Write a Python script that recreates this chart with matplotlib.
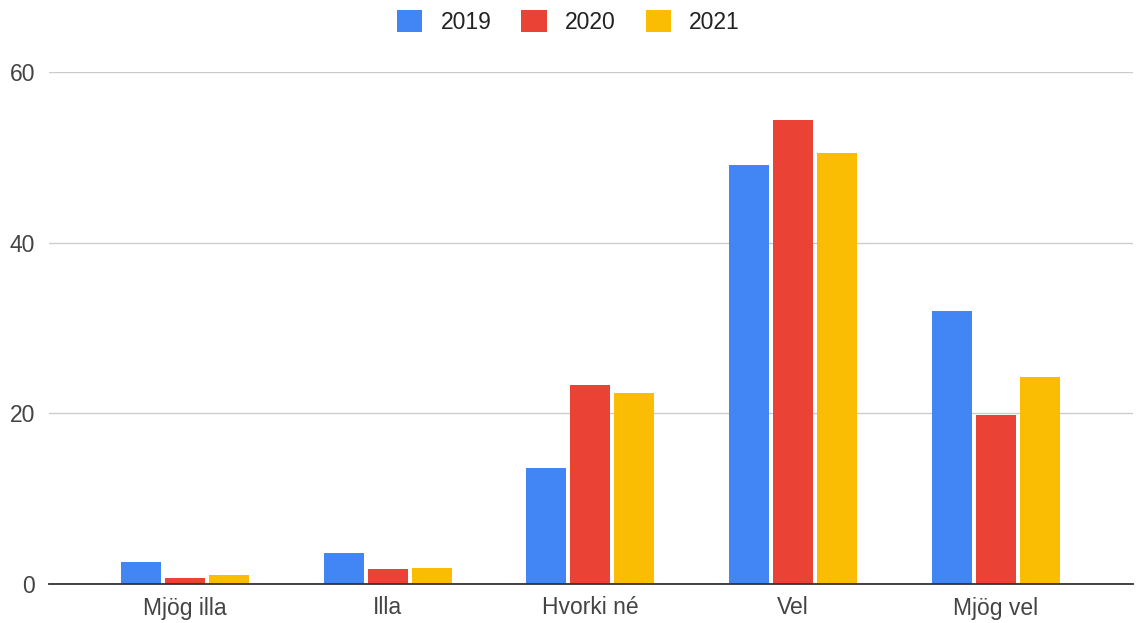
import numpy as np
import matplotlib
matplotlib.use('Agg')
import matplotlib.pyplot as plt
from matplotlib.patches import Patch

plt.rcParams['font.family'] = ['Liberation Sans', 'DejaVu Sans']

flokkar = ['Mjög illa', 'Illa', 'Hvorki né', 'Vel', 'Mjög vel']
ar = ['2019', '2020', '2021']
gildi_2019 = [2.6, 3.6, 13.6, 49.1, 32.0]
gildi_2020 = [0.75, 1.7, 23.3, 54.4, 19.8]
gildi_2021 = [1.0, 1.9, 22.4, 50.5, 24.3]
litir = ['#4285F4', '#EA4335', '#FBBC04']

fig = plt.figure(figsize=(11.37, 6.23), dpi=100)
ax = fig.add_axes([49 / 1137, 1 - 584 / 623, (1133 - 49) / 1137, (584 - 72) / 623])

x = np.arange(len(flokkar))
breidd = 0.197
bil = 0.217
for k, (gogn, lit) in enumerate(zip([gildi_2019, gildi_2020, gildi_2021], litir)):
    ax.bar(x + (k - 1) * bil, gogn, width=breidd, color=lit, zorder=3)

ax.set_xlim(-0.67, 4.676)
ax.set_ylim(0, 60)
ax.set_yticks([0, 20, 40, 60])
ax.set_xticks(x)
ax.set_xticklabels(flokkar)
ax.grid(axis='y', color='#cccccc', linewidth=1, zorder=0)
for s in ['top', 'right', 'left']:
    ax.spines[s].set_visible(False)
ax.spines['bottom'].set_color('#333333')
ax.spines['bottom'].set_linewidth(1.3)
ax.spines['bottom'].set_zorder(4)
ax.tick_params(axis='both', length=0, labelsize=16.5, colors='#444444')
ax.tick_params(axis='y', pad=10)
ax.tick_params(axis='x', pad=9)

handles = [Patch(facecolor=c, edgecolor='none') for c in litir]
fig.legend(handles, ar, loc='center', bbox_to_anchor=(0.5, 1 - 22 / 623), ncol=3,
           frameon=False, fontsize=16.5, handlelength=1.1, handleheight=1.1,
           columnspacing=1.3, handletextpad=0.8, labelcolor='#222222')

fig.savefig('out.png', dpi=100)
